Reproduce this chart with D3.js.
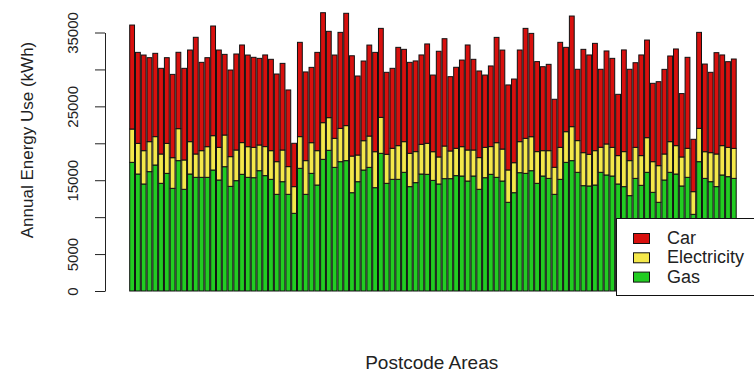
<!DOCTYPE html>
<html>
<head>
<meta charset="utf-8">
<script src="https://cdn.jsdelivr.net/npm/d3@7"></script>
<style>
body { margin: 0; background: #fff; }
svg { display: block; font-family: "Liberation Sans", Arial, sans-serif; }
</style>
</head>
<body>
<svg id="chart" width="754" height="374"></svg>
<script>
// annual energy use per postcode area (kWh)
var gas = [17420, 15840, 14490, 16160, 17060, 14580, 15930, 13900, 17650, 13770,
	15840, 15390, 15390, 15390, 16380, 15030, 16830, 14170, 14940, 15800,
	15390, 15340, 16290, 15620, 15120, 13090, 14800, 13090, 10520, 16610,
	13090, 15930, 14350, 17830, 19050, 16740, 17510, 17650, 13310, 14800,
	16380, 16740, 13990, 18640, 14580, 15120, 15120, 16070, 14130, 14670,
	15840, 15800, 14980, 14490, 15210, 15210, 15620, 15570, 14890, 15570,
	13770, 15340, 15800, 15390, 14890, 12010, 13310, 16020, 15930, 16290,
	14580, 15570, 15250, 13090, 15120, 17420, 17650, 16070, 14260, 14220,
	14350, 16070, 15710, 15570, 14490, 14130, 12910, 15250, 14310, 16070,
	13360, 12010, 15030, 16070, 15840, 14220, 15390, 10380, 17510, 15250,
	14800, 14130, 15710, 15480, 15250];
var electricity = [4510, 4150, 4510, 4060, 3840, 3970, 4060, 4150, 4330, 3970,
	4380, 3160, 3610, 4150, 4650, 4420, 4290, 4020, 4150, 4290,
	4150, 4110, 3480, 3930, 3880, 4420, 4290, 3750, 3610, 4290,
	4560, 4150, 4650, 4960, 4420, 3930, 4510, 4740, 4960, 3610,
	3970, 4240, 4870, 4870, 3930, 4200, 4560, 4150, 4510, 4200,
	4020, 4200, 3880, 3660, 4420, 3750, 3700, 3970, 4200, 3520,
	4290, 4110, 3750, 4690, 4330, 4380, 4060, 4200, 4740, 4600,
	4290, 3430, 3750, 3660, 4330, 4150, 4600, 4290, 4470, 4290,
	4650, 3390, 4200, 3880, 3840, 4740, 4740, 4200, 4020, 4690,
	4150, 4960, 3520, 4150, 3840, 3930, 3930, 3070, 4510, 3610,
	3930, 4420, 3970, 3970, 4060];
var car = [14080, 12320, 12950, 11370, 11280, 11600, 11600, 11280, 10340, 12410,
	12410, 15800, 11960, 12050, 14850, 13180, 10920, 11730, 13000, 13220,
	12410, 12190, 11730, 12410, 12370, 11870, 11730, 10380, 5870, 12770,
	12010, 10200, 13310, 14890, 11690, 11280, 13000, 15210, 13580, 10700,
	10790, 12320, 13450, 12050, 11100, 10830, 13310, 12500, 12320, 12280,
	12100, 13450, 10380, 14310, 14530, 10060, 10970, 11730, 14220, 12280,
	11730, 9790, 10920, 14260, 13400, 11510, 11330, 12410, 14890, 13990,
	12190, 11370, 11690, 9210, 14220, 11420, 14980, 9660, 13990, 13450,
	14530, 10560, 12590, 12050, 8300, 13770, 12370, 11460, 13630, 13220,
	10610, 11370, 11460, 11600, 13090, 8580, 12320, 7090, 13000, 11870,
	10880, 13720, 12280, 11600, 12100];

var seriesNames = ["Gas", "Electricity", "Car"];
var seriesColors = ["#22cc22", "#f4e84a", "#d8100e"];
var yTicks = [0, 5000, 10000, 15000, 20000, 25000, 30000, 35000];
var yTickLabels = ["0", "5000", "", "15000", "", "25000", "", "35000"];
var legendNames = ["Car", "Electricity", "Gas"];
var legendColors = ["#d8100e", "#f4e84a", "#22cc22"];

var svg = d3.select("#chart");

var rows = gas.map(function(g, i) {
	return { area: i, Gas: g, Electricity: electricity[i], Car: car[i] };
});

var x = d3.scaleBand()
	.domain(rows.map(function(d) { return d.area; }))
	.range([129.7, 736.2])
	.paddingInner(1 / 6)
	.paddingOuter(0);

var y = d3.scaleLinear()
	.domain([0, 35000])
	.range([291, 32.5]);

var stacked = d3.stack().keys(seriesNames)(rows);

svg.append("g")
	.attr("class", "bars")
	.selectAll("g")
	.data(stacked)
	.join("g")
	.attr("fill", function(d, i) { return seriesColors[i]; })
	.selectAll("rect")
	.data(function(d) { return d; })
	.join("rect")
	.attr("x", function(d) { return x(d.data.area); })
	.attr("y", function(d) { return y(d[1]); })
	.attr("width", x.bandwidth())
	.attr("height", function(d) { return y(d[0]) - y(d[1]); })
	.style("stroke", "#111")
	.style("stroke-width", "1");

// y axis, labels turned like R's default
var yAxis = svg.append("g")
	.attr("class", "yAxis")
	.attr("transform", "translate(105,0)")
	.call(d3.axisLeft(y)
		.tickValues(yTicks)
		.tickSize(10)
		.tickSizeOuter(0)
		.tickFormat(function(d, i) { return yTickLabels[i]; }));

yAxis.select(".domain").style("stroke", "#222");
yAxis.selectAll(".tick line").style("stroke", "#222");
yAxis.selectAll(".tick text")
	.attr("transform", "rotate(-90)")
	.attr("x", 0)
	.attr("y", -27)
	.attr("dy", 0)
	.style("text-anchor", "middle")
	.style("font-size", "15px")
	.style("fill", "#222");

svg.append("text")
	.attr("class", "yTitle")
	.attr("transform", "translate(33,140) rotate(-90)")
	.style("text-anchor", "middle")
	.style("font-size", "17px")
	.style("fill", "#222")
	.text("Annual Energy Use (kWh)");

svg.append("text")
	.attr("class", "xTitle")
	.attr("x", 431.7)
	.attr("y", 369)
	.style("text-anchor", "middle")
	.style("font-size", "19px")
	.style("fill", "#222")
	.text("Postcode Areas");

// legend box drawn over the bars
var legend = svg.append("g").attr("class", "legend");

legend.append("rect")
	.attr("x", 616.5)
	.attr("y", 218.5)
	.attr("width", 200)
	.attr("height", 77)
	.style("fill", "#fff")
	.style("stroke", "#111")
	.style("stroke-width", "1");

legendNames.forEach(function(name, i) {
	var ly = 233 + i * 19.3;
	legend.append("rect")
		.attr("x", 633.5)
		.attr("y", ly + 0.5)
		.attr("width", 16)
		.attr("height", 10)
		.style("fill", legendColors[i])
		.style("stroke", "#111")
		.style("stroke-width", "1");
	legend.append("text")
		.attr("x", 667)
		.attr("y", ly + 11)
		.style("font-size", "18px")
		.style("fill", "#222")
		.text(name);
});
</script>
</body>
</html>
